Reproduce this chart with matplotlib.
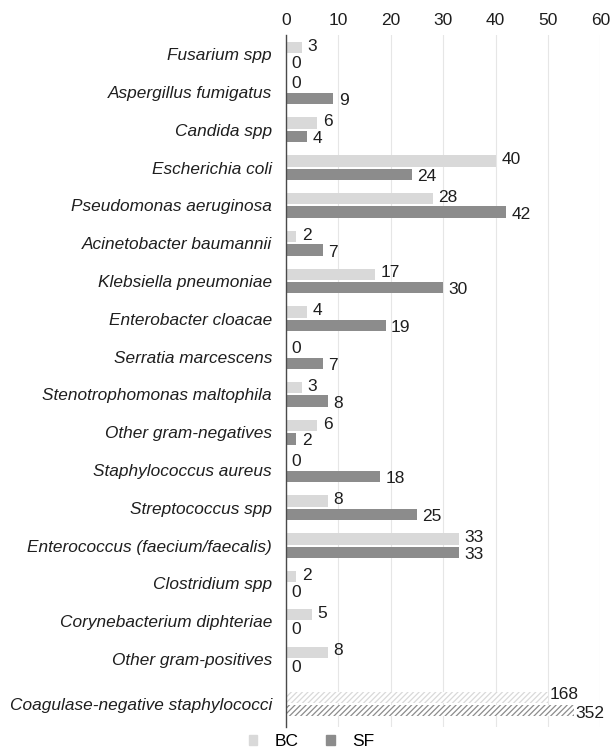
import numpy as np
import matplotlib
matplotlib.use("Agg")
import matplotlib.pyplot as plt
from matplotlib.patches import Patch

plt.rcParams['font.family'] = ['Liberation Sans', 'DejaVu Sans']
plt.rcParams['hatch.linewidth'] = 0.9

categories = ["Fusarium spp", "Aspergillus fumigatus", "Candida spp", "Escherichia coli",
              "Pseudomonas aeruginosa", "Acinetobacter baumannii", "Klebsiella pneumoniae",
              "Enterobacter cloacae", "Serratia marcescens", "Stenotrophomonas maltophila",
              "Other gram-negatives", "Staphylococcus aureus", "Streptococcus spp",
              "Enterococcus (faecium/faecalis)", "Clostridium spp", "Corynebacterium diphteriae",
              "Other gram-positives"]
bc = [3, 0, 6, 40, 28, 2, 17, 4, 0, 3, 6, 0, 8, 33, 2, 5, 8]
sf = [0, 9, 4, 24, 42, 7, 30, 19, 7, 8, 2, 18, 25, 33, 0, 0, 0]

# off-scale category, drawn as broken (hatched) bars
cons_label = "Coagulase-negative staphylococci"
cons_bc, cons_sf = 168, 352
cons_shown = [50, 55]   # where the truncated bars end on the 0-60 scale

c_bc = "#d9d9d9"
c_sf = "#8c8c8c"
c_txt = "#1e1e1e"

fig = plt.figure(figsize=(6.11, 7.54), dpi=100)
ax = fig.add_axes([0.468, 0.0358, 0.5147, 0.9178])

h = 0.30
off = 0.177
y = np.arange(len(categories))
ax.barh(y - off, bc, height=h, color=c_bc, zorder=2)
ax.barh(y + off, sf, height=h, color=c_sf, zorder=2)

yc = len(categories) + 0.19
ax.barh(yc - off, cons_shown[0], height=h, facecolor="white",
        edgecolor=c_bc, hatch="//////", linewidth=0, zorder=2)
ax.barh(yc + off, cons_shown[1], height=h, facecolor="white",
        edgecolor=c_sf, hatch="//////", linewidth=0, zorder=2)

fs = 12.5
for yi, b, s in zip(y, bc, sf):
    ax.annotate(str(b), (b, yi - off), xytext=(4, 1), textcoords="offset points",
                va="center", ha="left", fontsize=fs, color=c_txt)
    ax.annotate(str(s), (s, yi + off), xytext=(4, -1.5), textcoords="offset points",
                va="center", ha="left", fontsize=fs, color=c_txt)
ax.annotate(str(cons_bc), (cons_shown[0], yc - off), xytext=(1, 2), textcoords="offset points",
            va="center", ha="left", fontsize=fs, color=c_txt)
ax.annotate(str(cons_sf), (cons_shown[1], yc + off), xytext=(1, -2), textcoords="offset points",
            va="center", ha="left", fontsize=fs, color=c_txt)

ax.set_yticks(list(y) + [yc])
ax.set_yticklabels(categories + [cons_label], fontsize=12.4, style="italic", color=c_txt)
ax.set_ylim(yc + 0.61, -0.51)
ax.set_xlim(0, 60)
ax.set_xticks(range(0, 61, 10))
ax.xaxis.tick_top()
ax.tick_params(axis="x", length=0, labelsize=fs, labelcolor=c_txt, pad=5)
ax.tick_params(axis="y", length=0, pad=10)
ax.grid(axis="x", color="#e6e6e6", linewidth=0.8, zorder=0)
for side in ["top", "right", "bottom"]:
    ax.spines[side].set_visible(False)
ax.spines["left"].set_color("#4a4a4a")
ax.spines["left"].set_linewidth(1.0)
ax.spines["left"].set_zorder(3)

handles = [Patch(color=c_bc, label="BC"), Patch(color=c_sf, label="SF")]
fig.legend(handles=handles, loc="center", bbox_to_anchor=(0.51, 0.016), ncol=2,
           frameon=False, fontsize=fs, handlelength=0.5, handleheight=0.5,
           columnspacing=1.6, handletextpad=1.0, borderpad=0)

fig.savefig("out.png", dpi=100)
